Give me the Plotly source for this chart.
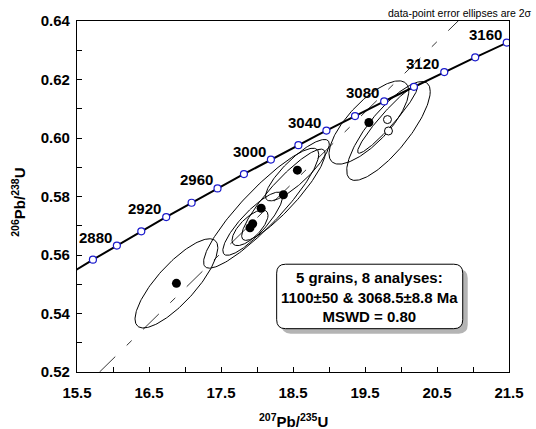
import numpy as np
import plotly.graph_objects as go

# ---------------- data ----------------
# decay constants (per Ma)
LAMBDA_238 = 1.55125e-4
LAMBDA_235 = 9.8485e-4

# concordia age ticks (Ma)
marker_ages = [2860, 2880, 2900, 2920, 2940, 2960, 2980, 3000, 3020, 3040,
               3060, 3080, 3100, 3120, 3140, 3160]
label_ages = [2880, 2920, 2960, 3000, 3040, 3080, 3120, 3160]
curve_ages = list(range(2800, 3200, 2))

# analyses: 207Pb/235U, 206Pb/238U, 2-sigma errors, error correlation
pb207_u235 = [16.881, 18.561, 18.367, 18.058, 17.940, 17.903, 19.554, 19.812, 19.826]
pb206_u238 = [0.5503, 0.5890, 0.5806, 0.5760, 0.5707, 0.5693, 0.6053, 0.6063, 0.6024]
err2_x = [0.575, 0.443, 0.58, 0.80, 0.415, 0.25, 0.554, 0.415, 0.58]
err2_y = [0.01525, 0.0105, 0.0156, 0.0205, 0.0108, 0.0061, 0.01424, 0.0115, 0.0169]
err_rho = [0.80, 0.85, 0.90, 0.90, 0.85, 0.70, 0.75, 0.95, 0.80]
used = [True, True, True, True, True, True, True, False, False]

# discordia intercepts (Ma)
lower_intercept = 1100.0
upper_intercept = 3068.5

# axes
x_range = [15.5, 21.5]
y_range = [0.52, 0.64]
x_tickvals = [15.5, 16.5, 17.5, 18.5, 19.5, 20.5, 21.5]
x_ticktext = ["15.5", "16.5", "17.5", "18.5", "19.5", "20.5", "21.5"]
x_minorvals = [16.0, 17.0, 18.0, 19.0, 20.0, 21.0]
y_tickvals = [0.52, 0.54, 0.56, 0.58, 0.60, 0.62, 0.64]
y_ticktext = ["0.52", "0.54", "0.56", "0.58", "0.60", "0.62", "0.64"]
y_minorvals = [0.53, 0.55, 0.57, 0.59, 0.61, 0.63]

stats_lines = ["5 grains, 8 analyses:", "1100±50 & 3068.5±8.8 Ma", "MSWD = 0.80"]
corner_note = "data-point error ellipses are 2σ"

# ---------------- helpers ----------------
def conc_x(t):
    return np.exp(LAMBDA_235 * np.asarray(t, float)) - 1.0

def conc_y(t):
    return np.exp(LAMBDA_238 * np.asarray(t, float)) - 1.0

FONT = "Arial, Liberation Sans, Helvetica, sans-serif"
fig = go.Figure()

# error ellipses
theta = np.linspace(0, 2 * np.pi, 181)
for cx, cy, ex, ey, r in zip(pb207_u235, pb206_u238, err2_x, err2_y, err_rho):
    ex_pts = cx + ex * np.cos(theta)
    ey_pts = cy + ey * (r * np.cos(theta) + np.sqrt(1 - r * r) * np.sin(theta))
    fig.add_trace(go.Scatter(x=ex_pts, y=ey_pts, mode="lines",
                             line=dict(color="black", width=1),
                             hoverinfo="skip", showlegend=False))

# discordia (dashed)
x_lo, y_lo = float(conc_x(lower_intercept)), float(conc_y(lower_intercept))
x_hi, y_hi = float(conc_x(upper_intercept)), float(conc_y(upper_intercept))
slope = (y_hi - y_lo) / (x_hi - x_lo)
yd = np.array([y_range[0], y_range[1] + 0.01])
xd = x_hi + (yd - y_hi) / slope
fig.add_trace(go.Scatter(x=xd, y=yd, mode="lines",
                         line=dict(color="black", width=0.8, dash="22px,16px,7px,16px"),
                         hoverinfo="skip", showlegend=False))

# concordia curve
fig.add_trace(go.Scatter(x=conc_x(curve_ages), y=conc_y(curve_ages), mode="lines",
                         line=dict(color="black", width=2),
                         hoverinfo="skip", showlegend=False))
fig.add_trace(go.Scatter(x=conc_x(marker_ages), y=conc_y(marker_ages), mode="markers",
                         marker=dict(size=7, color="white",
                                     line=dict(color="#1a1acc", width=1.2)),
                         showlegend=False))

# data points
fx = [x for x, u in zip(pb207_u235, used) if u]
fy = [y for y, u in zip(pb206_u238, used) if u]
ox = [x for x, u in zip(pb207_u235, used) if not u]
oy = [y for y, u in zip(pb206_u238, used) if not u]
fig.add_trace(go.Scatter(x=fx, y=fy, mode="markers",
                         marker=dict(size=9, color="black", line=dict(width=0)),
                         showlegend=False))
fig.add_trace(go.Scatter(x=ox, y=oy, mode="markers",
                         marker=dict(size=8, color="white", line=dict(color="black", width=1)),
                         showlegend=False))

annotations = []
for a in label_ages:
    annotations.append(dict(x=float(conc_x(a)), y=float(conc_y(a)), xref="x", yref="y",
                            text="<b>%d</b>" % a, showarrow=False,
                            xanchor="right", yanchor="bottom", xshift=-3, yshift=-2,
                            font=dict(family=FONT, size=15, color="black")))

# axis titles
annotations.append(dict(x=0.5, y=-0.139, xref="paper", yref="paper",
                        text="<b><sup>207</sup>Pb/<sup>235</sup>U</b>", showarrow=False,
                        xanchor="center", yanchor="middle",
                        font=dict(family=FONT, size=15, color="black")))
annotations.append(dict(x=-0.136, y=0.483, xref="paper", yref="paper",
                        text="<b><sup>206</sup>Pb/<sup>238</sup>U</b>", showarrow=False,
                        textangle=-90, xanchor="center", yanchor="middle",
                        font=dict(family=FONT, size=15, color="black")))

# corner note
annotations.append(dict(x=0.716, y=1.0226, xref="paper", yref="paper",
                        text=corner_note, showarrow=False,
                        xanchor="left", yanchor="middle",
                        font=dict(family=FONT, size=10.5, color="black")))

# stats box text
annotations.append(dict(x=0.6777, y=0.2147, xref="paper", yref="paper",
                        text="<b>" + "<br>".join(stats_lines) + "</b>", showarrow=False,
                        xanchor="center", yanchor="middle", align="center",
                        font=dict(family=FONT, size=15, color="black")))

# rounded box shapes (paper coords)
PW, PH = 433.4, 354.0
def rounded_path(x0, y0, x1, y1, rpx=9):
    rx, ry = rpx / PW, rpx / PH
    return (f"M {x0+rx},{y0} L {x1-rx},{y0} Q {x1},{y0} {x1},{y0+ry} "
            f"L {x1},{y1-ry} Q {x1},{y1} {x1-rx},{y1} L {x0+rx},{y1} "
            f"Q {x0},{y1} {x0},{y1-ry} L {x0},{y0+ry} Q {x0},{y0} {x0+rx},{y0} Z")

bx0, by0, bx1, by1 = 0.4622, 0.1234, 0.8929, 0.3071
sx, sy = 5 / PW, 5 / PH
shapes = [
    dict(type="path", xref="paper", yref="paper",
         path=rounded_path(bx0 + sx, by0 - sy, bx1 + sx, by1 - sy),
         fillcolor="#b4b4b4", line=dict(width=0), layer="above"),
    dict(type="path", xref="paper", yref="paper",
         path=rounded_path(bx0, by0, bx1, by1),
         fillcolor="white", line=dict(color="black", width=1), layer="above"),
]

axis_common = dict(showgrid=False, zeroline=False, showline=True, linecolor="black",
                   linewidth=1.3, mirror=True, ticks="inside", ticklen=5, tickwidth=1,
                   tickcolor="black", tickmode="array",
                   tickfont=dict(family=FONT, size=15, color="black", weight="bold"))

fig.update_layout(
    width=536, height=429,
    margin=dict(l=77, r=26, t=18, b=57),
    paper_bgcolor="white", plot_bgcolor="white",
    xaxis=dict(range=x_range, tickvals=x_tickvals, ticktext=x_ticktext,
               ticklabelstandoff=7,
               minor=dict(tickvals=x_minorvals, ticks="inside", ticklen=5,
                          tickcolor="black", tickwidth=1, showgrid=False),
               **axis_common),
    yaxis=dict(range=y_range, tickvals=y_tickvals, ticktext=y_ticktext,
               ticklabelstandoff=3,
               minor=dict(tickvals=y_minorvals, ticks="inside", ticklen=5,
                          tickcolor="black", tickwidth=1, showgrid=False),
               **axis_common),
    annotations=annotations,
    shapes=shapes,
    showlegend=False,
)

fig.write_html("out.html",
               config={"displayModeBar": False},
               post_script="document.body.style.margin='0';"
                           "document.body.style.padding='0';"
                           "document.body.style.overflow='hidden';")
